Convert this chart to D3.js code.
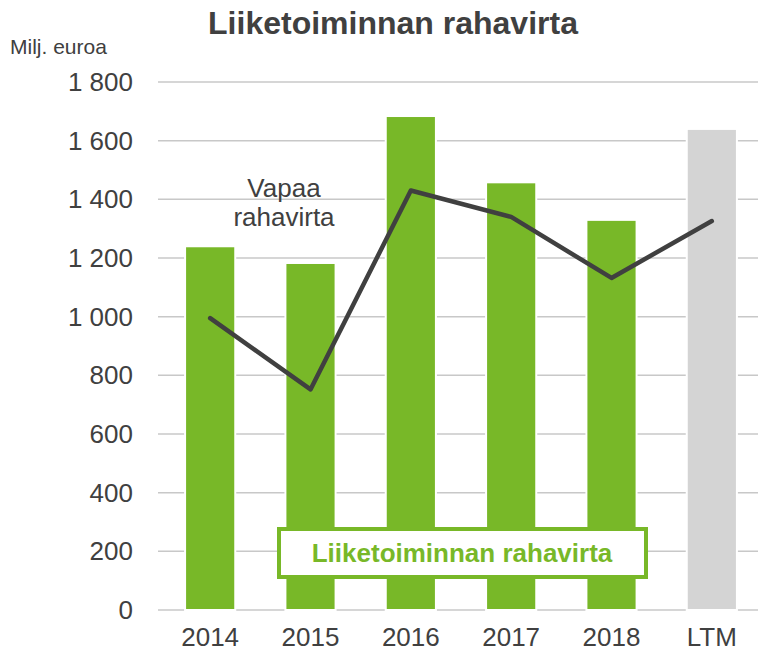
<!DOCTYPE html>
<html>
<head>
<meta charset="utf-8">
<script src="https://cdn.jsdelivr.net/npm/d3@7"></script>
<style>
  body { margin: 0; background: #fff; }
  text { font-family: "Liberation Sans", Arial, sans-serif; }
</style>
</head>
<body>
<div id="chart"></div>
<script>
var categories = ["2014", "2015", "2016", "2017", "2018", "LTM"];
var operatingCashFlow = [1240, 1183, 1684, 1458, 1330, 1640];
var freeCashFlow = [995, 752, 1430, 1340, 1132, 1326];
var yTicks = [0, 200, 400, 600, 800, 1000, 1200, 1400, 1600, 1800];

var width = 758, height = 652;
var plotLeft = 160, plotRight = 762, plotTop = 82, plotBottom = 610;

var svg = d3.select('#chart').append('svg').attr('width', width).attr('height', height);

var x = d3.scaleBand().domain(categories).range([plotLeft, plotRight]).paddingInner(0.5).paddingOuter(0.25);
var y = d3.scaleLinear().domain([0, 1800]).range([plotBottom, plotTop]);

// grid
svg.append('g').selectAll('line').data(yTicks).enter().append('line')
  .attr('x1', 158).attr('x2', 758)
  .attr('y1', function(d){ return y(d); }).attr('y2', function(d){ return y(d); })
  .attr('stroke', '#c8c8c8').attr('stroke-width', 1.5);

// y axis labels
var fmt = function(d){ return d3.format(",")(d).replace(/,/g, " "); };
svg.append('g').selectAll('text').data(yTicks).enter().append('text')
  .attr('x', 133).attr('y', function(d){ return y(d) + 9; })
  .attr('text-anchor', 'end').attr('font-size', 26).attr('fill', '#404040')
  .text(fmt);

// bars
svg.append('g').selectAll('rect').data(operatingCashFlow).enter().append('rect')
  .attr('x', function(d, i){ return x(categories[i]); })
  .attr('width', x.bandwidth())
  .attr('y', function(d){ return y(d); })
  .attr('height', function(d){ return y(0) - y(d); })
  .attr('fill', function(d, i){ return categories[i] == 'LTM' ? '#d4d4d4' : '#78b828'; })
  .attr('stroke', '#fff').attr('stroke-width', 2);

// x labels
svg.append('g').selectAll('text').data(categories).enter().append('text')
  .attr('x', function(d){ return x(d) + x.bandwidth() / 2; })
  .attr('y', 646)
  .attr('text-anchor', 'middle').attr('font-size', 26).attr('fill', '#404040')
  .text(function(d){ return d; });

// free cash flow line
var line = d3.line()
  .x(function(d, i){ return x(categories[i]) + x.bandwidth() / 2; })
  .y(function(d){ return y(d); });
svg.append('path').datum(freeCashFlow)
  .attr('d', line).attr('fill', 'none')
  .attr('stroke', '#404040').attr('stroke-width', 4.5).attr('stroke-linecap', 'round').attr('stroke-linejoin', 'round');

// line label
svg.append('text').attr('x', 284).attr('y', 197).attr('text-anchor', 'middle')
  .attr('font-size', 26).attr('fill', '#404040').text('Vapaa');
svg.append('text').attr('x', 284).attr('y', 226).attr('text-anchor', 'middle')
  .attr('font-size', 26).attr('fill', '#404040').text('rahavirta');

// legend box
svg.append('rect').attr('x', 279).attr('y', 529).attr('width', 367).attr('height', 48)
  .attr('fill', '#fff').attr('stroke', '#78b828').attr('stroke-width', 4);
svg.append('text').attr('x', 462).attr('y', 562).attr('text-anchor', 'middle')
  .attr('font-size', 26).attr('font-weight', 'bold').attr('fill', '#78b828')
  .text('Liiketoiminnan rahavirta');

// title and unit
svg.append('text').attr('x', 393).attr('y', 34).attr('text-anchor', 'middle')
  .attr('font-size', 32).attr('font-weight', 'bold').attr('fill', '#404040')
  .text('Liiketoiminnan rahavirta');
svg.append('text').attr('x', 10).attr('y', 54)
  .attr('font-size', 21).attr('fill', '#404040').text('Milj. euroa');
</script>
</body>
</html>
